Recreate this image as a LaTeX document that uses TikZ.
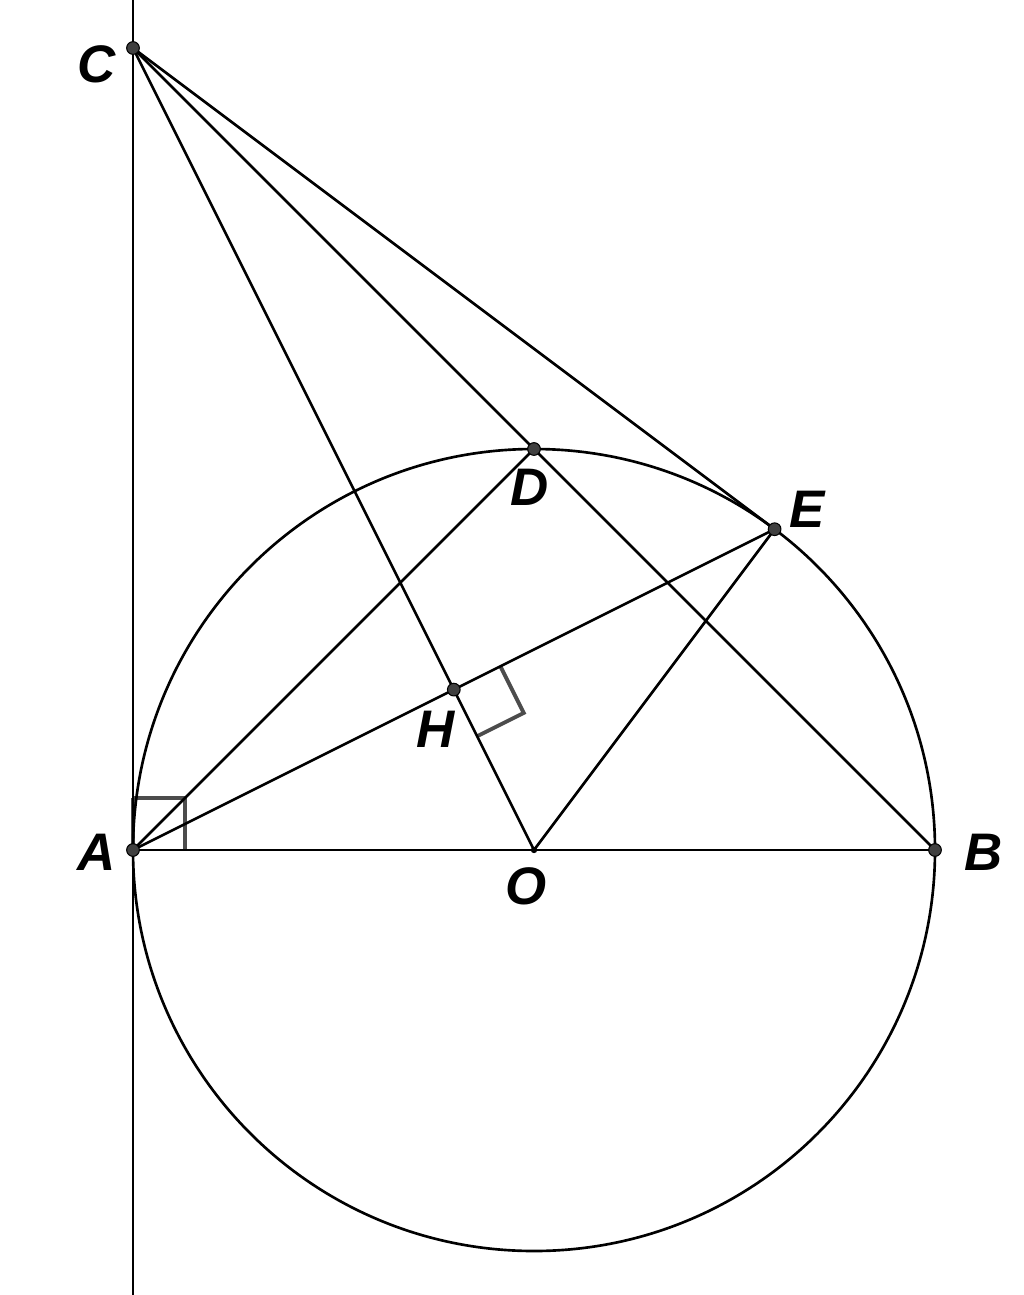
\documentclass[tikz,border=0pt]{standalone}
\usepackage{fontspec}
\setmainfont{Liberation Sans}
\usetikzlibrary{positioning}
\tikzset{pt/.style={circle,fill=black!75,draw=black,line width=0.3pt,minimum size=3.6pt,inner sep=0pt},
         lbl/.style={font=\fontsize{15}{17}\selectfont\bfseries\itshape,inner sep=1pt},
         rmark/.style={draw=black!70,line width=1.1pt},
            }

\begin{document}
\begin{tikzpicture}[x=4cm,y=4cm,line width=0.75pt]
 \useasboundingbox (-1.3317,-1.1097) rectangle (1.2219,2.1197);
 \coordinate (O) at (0,0);
 \coordinate (A) at (-1,0);
 \coordinate (B) at (1,0);
 \coordinate (C) at (-1,2);
 \coordinate (D) at (0,1);
 \coordinate (E) at (0.6,0.8);
 \coordinate (H) at (-0.2,0.4);
 \coordinate (top) at (-1,2.1197);
 \coordinate (bot) at (-1,-1.1097);

 % right angle marks
 \draw[rmark] (A) ++(0,0.13) -- ++(0.13,0) -- ++(0,-0.13);
 \draw[rmark] (A) -- ++(0,0.13);
 \draw[rmark] (H) ++(0.1163,0.0581) -- ++(0.0581,-0.1163) -- ++(-0.1163,-0.0581);

 \draw (top) -- (bot);
 \draw (O) circle (1);
 \draw (A) -- (B);
 \draw (C) -- (O);
 \draw (C) -- (D);
 \draw (C) -- (E);
 \draw (A) -- (D) -- (B);
 \draw (A) -- (E) -- (O);

 \node[pt] (nA) at (A) {};
 \node[pt] (nB) at (B) {};
 \node[pt] (nC) at (C) {};
 \node[pt] (nD) at (D) {};
 \node[pt] (nE) at (E) {};
 \node[pt] (nH) at (H) {};
 \node[circle,fill=black,minimum size=1.8pt,inner sep=0pt] (nO) at (O) {};

 \node[lbl] (lA) at (-1.09,-0.005) {A};
 \node[lbl] (lB) at (1.12,-0.005) {B};
 \node[lbl] (lC) at (-1.09,1.96) {C};
 \node[lbl] (lD) at (-0.01,0.905) {D};
 \node[lbl] (lE) at (0.68,0.85) {E};
 \node[lbl] (lH) at (-0.245,0.30) {H};
 \node[lbl] (lO) at (-0.02,-0.09) {O};
\end{tikzpicture}
\end{document}
